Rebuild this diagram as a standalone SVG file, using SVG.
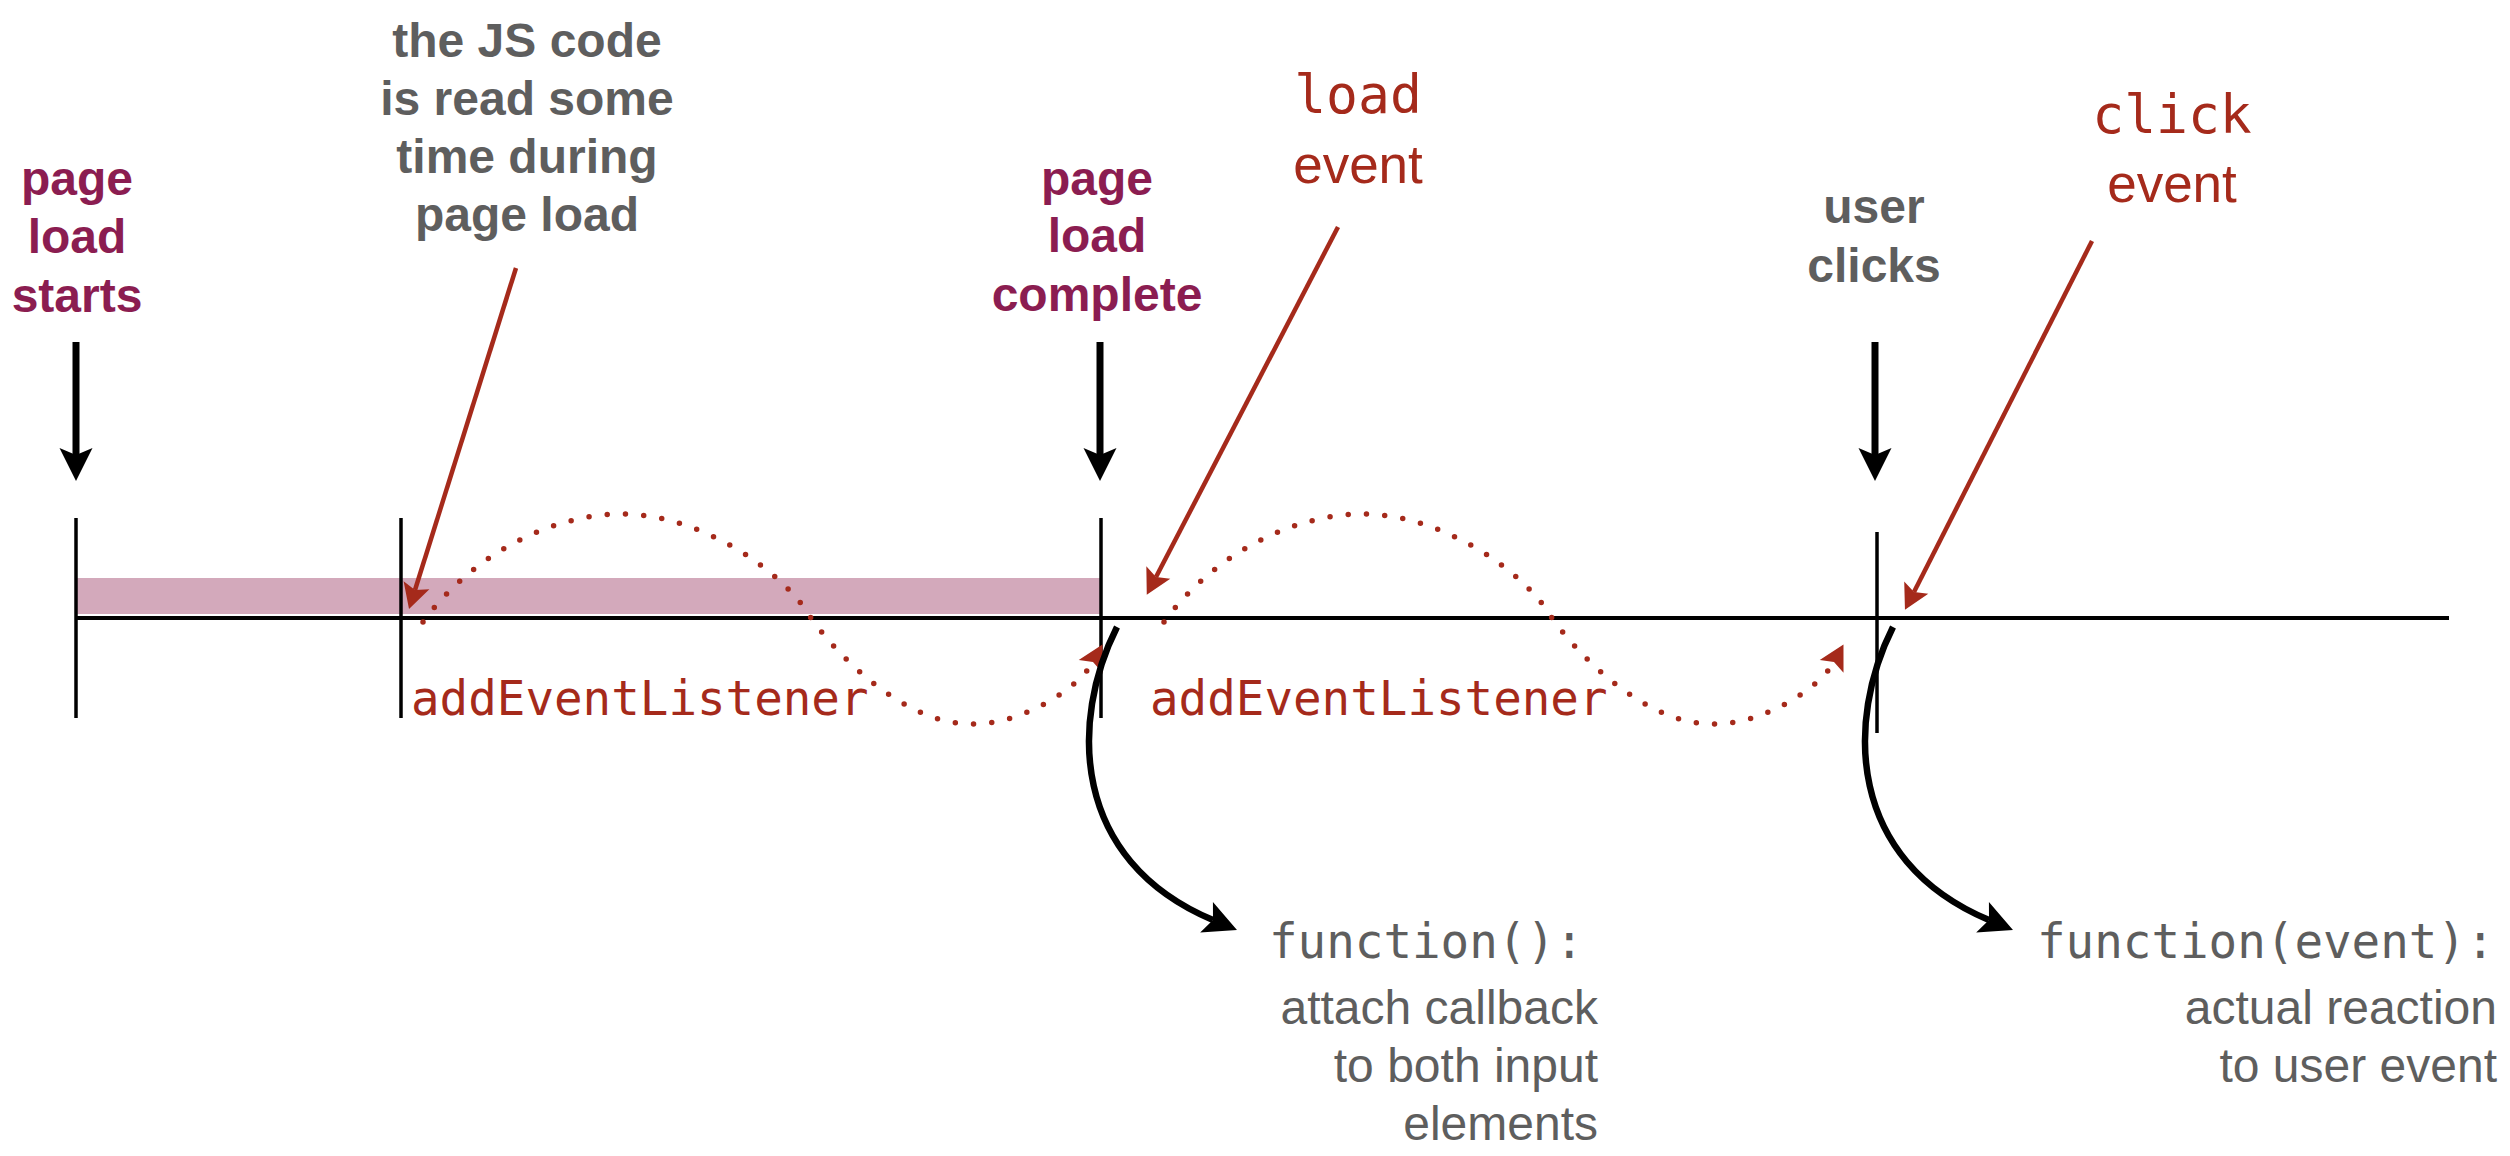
<svg xmlns="http://www.w3.org/2000/svg" width="2510" height="1156" viewBox="0 0 2510 1156">
<defs>
<style>
.bg{fill:#ffffff}
.sans{font-family:"Liberation Sans",Arial,Helvetica,sans-serif}
.mono{font-family:"DejaVu Sans Mono","Liberation Mono",monospace}
.bold{font-weight:bold}
.maroon{fill:#8B1D51}
.gray{fill:#5E5E5E}
.red{fill:#A52A1B}
.f48{font-size:48px}
.mid{text-anchor:middle}
.end{text-anchor:end}
.tick{stroke:#000;stroke-width:3.5;fill:none}
.axis{stroke:#000;stroke-width:4;fill:none}
.down{stroke:#000;stroke-width:7;fill:none;marker-end:url(#blackHead)}
.curve{stroke:#000;stroke-width:6.5;fill:none;marker-end:url(#blackHead)}
.pointer{stroke:#A52A1B;stroke-width:4.5;fill:none;marker-end:url(#redHead)}
.dotted{stroke:#A52A1B;stroke-width:5.5;fill:none;stroke-dasharray:0 18.3;stroke-linecap:round;marker-end:url(#redHead)}
</style>
<marker id="blackHead" markerUnits="userSpaceOnUse" viewBox="0 -17 33 34" markerWidth="33" markerHeight="34" refX="7" refY="0" orient="auto" overflow="visible">
<path d="M0,-16.5 L33,0 L0,16.5 L7,0 Z" fill="#000"/>
</marker>
<marker id="redHead" markerUnits="userSpaceOnUse" viewBox="0 -14 25 28" markerWidth="25" markerHeight="28" refX="5" refY="0" orient="auto" overflow="visible">
<path d="M0,-13.5 L25,0 L0,13.5 L5,0 Z" fill="#A52A1B"/>
</marker>
</defs>
<rect class="bg" x="0" y="0" width="2510" height="1156"/>

<g id="timeline">
<rect id="loading-bar" x="76" y="578" width="1025" height="36" fill="#D3A9BB"/>
<line class="axis" x1="76" y1="618" x2="2449" y2="618"/>
<line class="tick" x1="76" y1="518" x2="76" y2="718"/>
<line class="tick" x1="401" y1="518" x2="401" y2="718"/>
<line class="tick" x1="1101" y1="518" x2="1101" y2="718"/>
<line class="tick" x1="1877" y1="532" x2="1877" y2="733"/>
</g>

<g id="connectors">
<line class="down" x1="76" y1="342" x2="76" y2="455"/>
<line class="down" x1="1100" y1="342" x2="1100" y2="455"/>
<line class="down" x1="1875" y1="342" x2="1875" y2="455"/>
<line class="pointer" x1="516" y1="268" x2="415" y2="590"/>
<line class="pointer" x1="1338" y1="227" x2="1156" y2="577"/>
<line class="pointer" x1="2092" y1="241" x2="1914" y2="592"/>
<path class="dotted" d="M423,622 C478,547 560,514 622,514 C700,514 780,570 807,612 C834,654 905,724 970,724 C1020,726 1079,688 1093,662"/>
<path class="dotted" d="M1164,622 C1219,547 1301,514 1363,514 C1441,514 1521,570 1548,612 C1575,654 1646,724 1711,724 C1761,726 1820,688 1834,662"/>
<path class="curve" d="M1117,627 C1070,720 1070,860 1213,920"/>
<path class="curve" d="M1893,627 C1846,720 1846,860 1989,920"/>
</g>

<g id="page-load-starts">
<text class="sans bold maroon f48 mid" x="77" y="195">page</text>
<text class="sans bold maroon f48 mid" x="77" y="253">load</text>
<text class="sans bold maroon f48 mid" x="77" y="312">starts</text>
</g>

<g id="js-code-read">
<text class="sans bold gray f48 mid" x="527" y="57">the JS code</text>
<text class="sans bold gray f48 mid" x="527" y="115">is read some</text>
<text class="sans bold gray f48 mid" x="527" y="173">time during</text>
<text class="sans bold gray f48 mid" x="527" y="231">page load</text>
</g>

<g id="page-load-complete">
<text class="sans bold maroon f48 mid" x="1097" y="195">page</text>
<text class="sans bold maroon f48 mid" x="1097" y="252">load</text>
<text class="sans bold maroon f48 mid" x="1097" y="311">complete</text>
</g>

<g id="load-event">
<text class="mono red mid" x="1358" y="113" font-size="53">load</text>
<text class="sans red mid" x="1358" y="183" font-size="53">event</text>
</g>

<g id="user-clicks">
<text class="sans bold gray f48 mid" x="1874" y="223">user</text>
<text class="sans bold gray f48 mid" x="1874" y="282">clicks</text>
</g>

<g id="click-event">
<text class="mono red mid" x="2172" y="133" font-size="53">click</text>
<text class="sans red mid" x="2172" y="202" font-size="53">event</text>
</g>

<g id="add-listener-1">
<text class="mono red" x="411" y="715" font-size="47.5">addEventListener</text>
</g>

<g id="add-listener-2">
<text class="mono red" x="1150" y="715" font-size="47.5">addEventListener</text>
</g>

<g id="load-callback">
<text class="mono gray" x="1269" y="958" font-size="47.5">function():</text>
<text class="sans gray f48 end" x="1598" y="1024">attach callback</text>
<text class="sans gray f48 end" x="1598" y="1082">to both input</text>
<text class="sans gray f48 end" x="1598" y="1140">elements</text>
</g>

<g id="click-callback">
<text class="mono gray" x="2037" y="958" font-size="47.5">function(event):</text>
<text class="sans gray f48 end" x="2497" y="1024">actual reaction</text>
<text class="sans gray f48 end" x="2497" y="1082">to user event</text>
</g>
</svg>
